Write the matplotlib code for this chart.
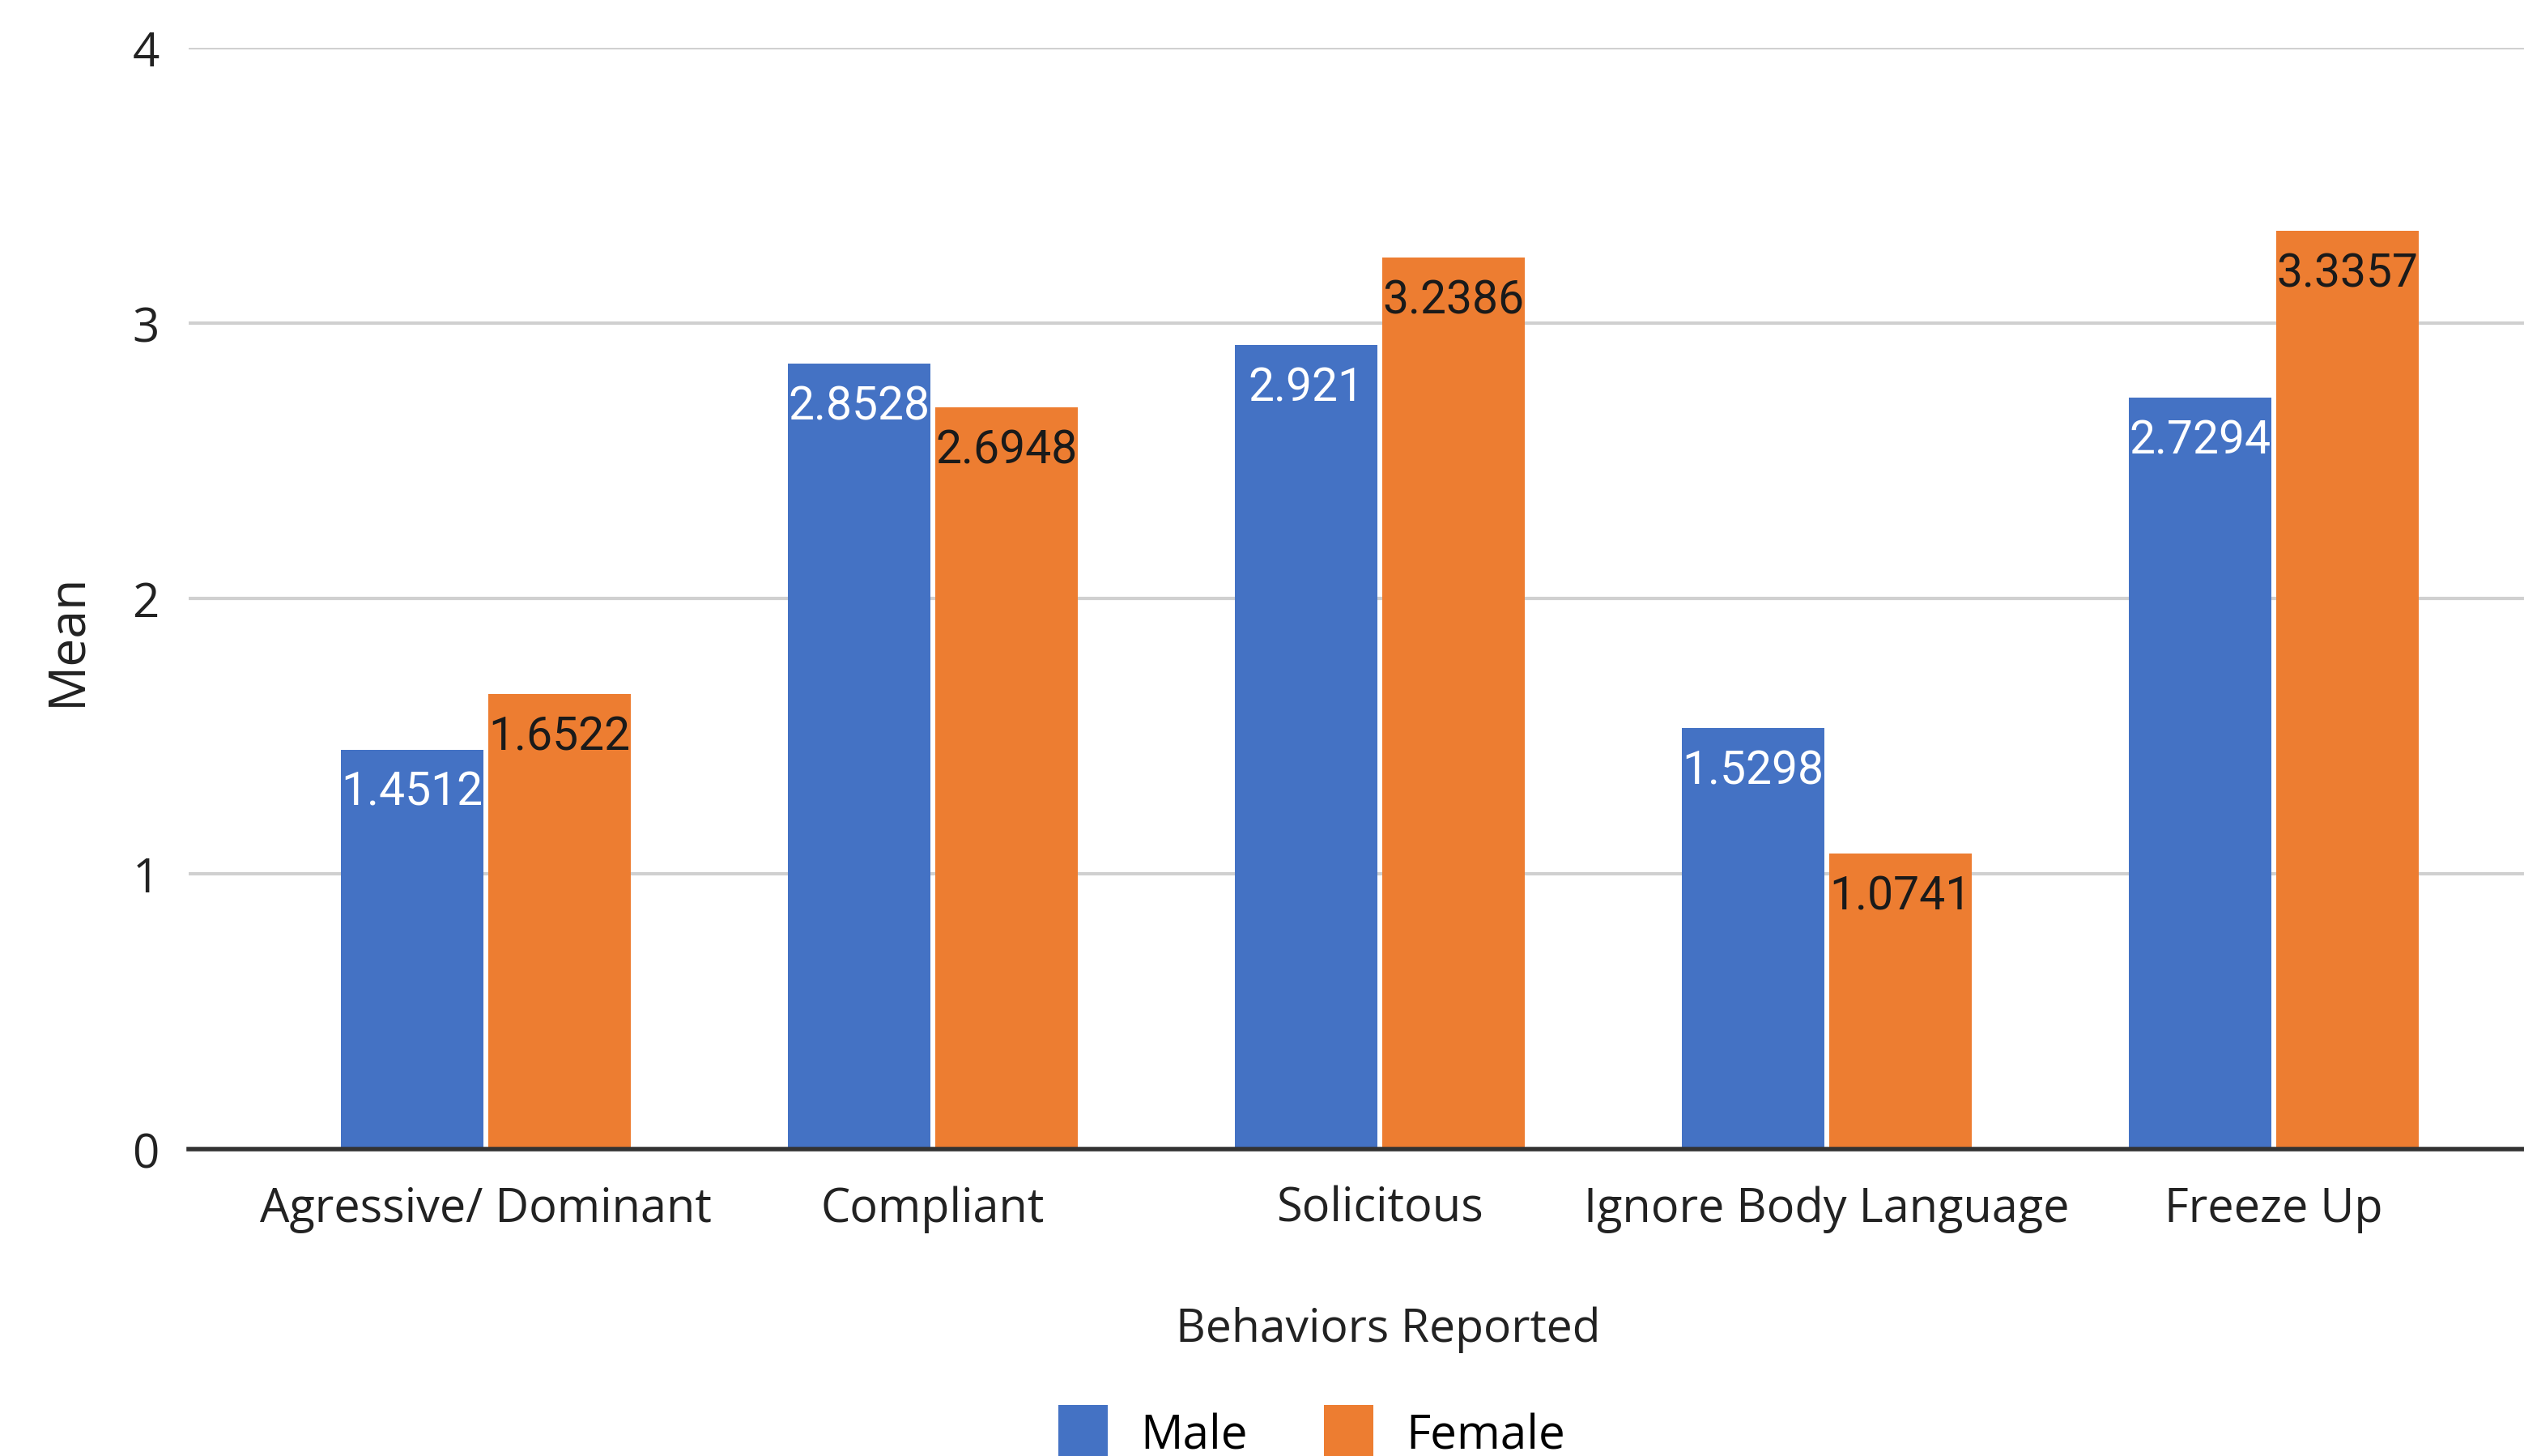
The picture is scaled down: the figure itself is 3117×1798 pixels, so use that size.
import matplotlib
matplotlib.use("Agg")
import matplotlib.pyplot as plt
import numpy as np
from matplotlib.patches import Patch

categories = ["Agressive/ Dominant", "Compliant", "Solicitous", "Ignore Body Language", "Freeze Up"]
male = [1.4512, 2.8528, 2.921, 1.5298, 2.7294]
female = [1.6522, 2.6948, 3.2386, 1.0741, 3.3357]
male_labels = ["1.4512", "2.8528", "2.921", "1.5298", "2.7294"]
female_labels = ["1.6522", "2.6948", "3.2386", "1.0741", "3.3357"]
yticks = [0, 1, 2, 3, 4]

BLUE = "#4472C4"
ORANGE = "#ED7D31"

W, H, DPI = 3117, 1799, 100
fig = plt.figure(figsize=(W / DPI, H / DPI), dpi=DPI)
left = 233 / W
bottom = (H - 1420) / H
top = (H - 60) / H
ax = fig.add_axes([left, bottom, 1.0 - left, top - bottom])

x = np.arange(len(categories))
bw = 0.32
off = 0.165
ax.bar(x - off, male, width=bw, color=BLUE, zorder=3, label="Male")
ax.bar(x + off, female, width=bw, color=ORANGE, zorder=3, label="Female")

for xi, v, s in zip(x, male, male_labels):
    ax.annotate(s, (xi - off, v), xytext=(0, -38), textcoords="offset points",
                ha="center", va="center", fontsize=41, color="white",
                family="Roboto", zorder=5)
for xi, v, s in zip(x, female, female_labels):
    ax.annotate(s, (xi + off, v), xytext=(0, -38), textcoords="offset points",
                ha="center", va="center", fontsize=41, color="#1a1a1a",
                family="Roboto", zorder=5)

ax.set_xlim(-0.665, 4.56)
ax.set_ylim(0, 4)
ax.set_yticks(yticks)
ax.set_yticklabels([str(t) for t in yticks], family="Open Sans", fontsize=42, color="#222222")
ax.set_xticks(x)
ax.set_xticklabels(categories, family="Open Sans", fontsize=41.5, color="#222222")
ax.tick_params(axis="both", length=0)
ax.tick_params(axis="y", pad=26)
ax.tick_params(axis="x", pad=32)

ax.grid(axis="y", color="#D0D0D0", linewidth=3, zorder=0)
ax.set_axisbelow(True)
for sp in ["top", "right", "left"]:
    ax.spines[sp].set_visible(False)
ax.spines["bottom"].set_color("#333333")
ax.spines["bottom"].set_linewidth(4)
ax.spines["bottom"].set_zorder(4)

fig.text(83 / W, 1 - 790 / H, "Mean", rotation=90, ha="center", va="center",
         family="Open Sans", fontsize=45, color="#222222")
fig.text(1714 / W, 1 - 1642 / H, "Behaviors Reported", ha="center", va="center",
         family="Open Sans", fontsize=41, color="#222222")

handles = [Patch(facecolor=BLUE, label="Male"), Patch(facecolor=ORANGE, label="Female")]
fig.legend(handles=handles, loc="center", bbox_to_anchor=(1620 / W, 1 - 1770 / H),
           ncol=2, frameon=False, prop={"family": "Open Sans", "size": 42},
           handlelength=1.05, handleheight=1.4, handletextpad=0.7, columnspacing=1.6)

fig.savefig("out.png", dpi=DPI)
